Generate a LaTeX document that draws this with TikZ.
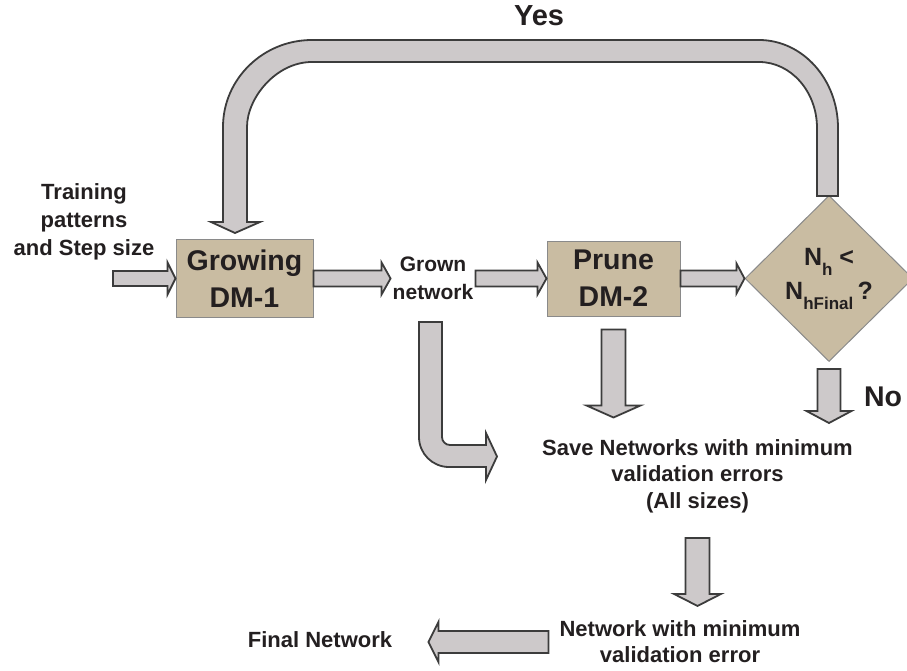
\documentclass[tikz,border=0pt]{standalone}
\usepackage{fontspec}
\setmainfont{Liberation Sans}
\usetikzlibrary{calc,shapes.geometric}

\definecolor{arrowfill}{HTML}{CDC9CA}
\definecolor{arrowline}{HTML}{3C3C3C}
\definecolor{boxfill}{HTML}{C9BCA2}
\definecolor{boxline}{HTML}{8A8A8A}
\definecolor{txt}{HTML}{231F20}

% block arrow: from, to, half shaft, half head, head length
\newcommand{\blockarrow}[5]{%
  \coordinate (ba) at ($(#2)!#5!(#1)$);
  \draw[barrow] ($(#1)!#3!90:(#2)$) -- ($(ba)!#3!90:(#2)$) -- ($(ba)!#4!90:(#2)$) -- (#2)
    -- ($(ba)!#4!-90:(#2)$) -- ($(ba)!#3!-90:(#2)$) -- ($(#1)!#3!-90:(#2)$) -- cycle;}
\newcommand{\subsz}{\fontsize{17}{17}\selectfont}

\begin{document}
\begin{tikzpicture}[x=1pt,y=-1pt,
    barrow/.style={draw=arrowline,fill=arrowfill,line width=1.8pt,line join=miter},
    dmbox/.style={draw=boxline,fill=boxfill,line width=1pt,inner sep=0pt,text=txt,align=center,
      font=\bfseries\fontsize{28.5}{37}\selectfont},
    lbl/.style={text=txt,align=center,inner sep=2pt,font=\bfseries\fontsize{22}{26.5}\selectfont}]
  \useasboundingbox (0,0) rectangle (907,671);

  \node[dmbox,minimum width=137pt,minimum height=78pt] (grow) at (244.5,278.5) {Growing\\DM-1};
  \node[dmbox,minimum width=133pt,minimum height=75pt] (prune) at (613.5,278.5) {Prune\\DM-2};
  \node[dmbox,diamond,minimum width=168pt,minimum height=166pt,
    label={[text=txt,align=center,font=\bfseries\fontsize{25}{34}\selectfont]center:{N\raisebox{-10pt}{\subsz h} <\\N\raisebox{-10pt}{\subsz hFinal}\,?}}] (dm) at (829,278.5) {};

  \node[lbl,font=\bfseries\fontsize{22}{28}\selectfont] (train) at (84,222) {Training\\patterns\\and Step size};
  \node[lbl,font=\bfseries\fontsize{21}{28}\selectfont] (grown) at (433,278.5) {Grown\\network};
  \node[lbl] (save) at (697.5,476) {Save Networks with minimum\\validation errors\\(All sizes)};
  \node[lbl,font=\bfseries\fontsize{22}{26}\selectfont] (netmin) at (680,642) {Network with minimum\\validation error};
  \node[lbl] (final) at (320,640) {Final Network};
  \node[lbl,font=\bfseries\fontsize{29}{29}\selectfont] (yes) at (539,16) {Yes};
  \node[lbl,font=\bfseries\fontsize{28.5}{28.5}\selectfont] (no) at (883,397) {No};

  \coordinate (in) at (113,278.5);
  \blockarrow{in}{grow.west}{7.5pt}{16pt}{8pt}
  \blockarrow{grow.east}{grown.west}{8pt}{16pt}{9pt}
  \blockarrow{grown.east}{prune.west}{8pt}{16pt}{9pt}
  \blockarrow{prune.east}{dm.west}{8pt}{15pt}{8pt}
  \blockarrow{[yshift=-13pt]prune.south}{[yshift=-101pt]prune.south}{12pt}{27pt}{12pt}
  \blockarrow{[yshift=-7pt]dm.south}{[yshift=-61pt]dm.south}{11.5pt}{22.5pt}{12pt}
  \blockarrow{[yshift=-23pt]save.south}{[yshift=-91pt]save.south}{12pt}{23.5pt}{12pt}
  \blockarrow{[xshift=-9pt]netmin.west}{[xshift=-129pt]netmin.west}{11pt}{20pt}{10pt}

  % Yes: back from the test to DM-1
  \draw[barrow] (223,222) -- (223,127) .. controls (223,79) and (263,40) .. (312,40)
    -- (759,40) .. controls (802.6,40) and (838,79.4) .. (838,128) -- (838,196) -- (817,196)
    -- (817,128) .. controls (817,91.6) and (791,62) .. (759,62) -- (312,62)
    .. controls (276,62) and (247,98) .. (247,127) -- (247,222) -- (260,222) -- (235,233)
    -- (211,222) -- cycle;
  % grown network kept
  \draw[barrow] (419,322) -- (419,437) .. controls (419,453.6) and (432.4,467) .. (449,467)
    -- (486,467) -- (486,480) -- (497,456.5) -- (486,433) -- (486,445) -- (450,445)
    .. controls (445.6,445) and (442,441.4) .. (442,437) -- (442,322) -- cycle;
\end{tikzpicture}
\end{document}
